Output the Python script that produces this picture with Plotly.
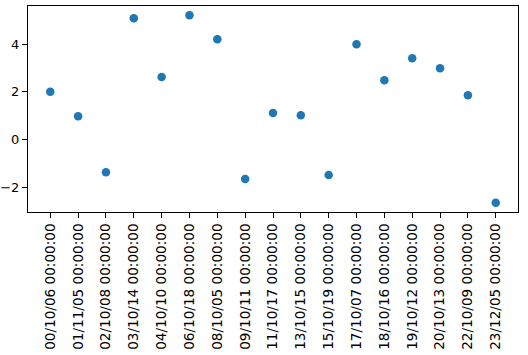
import plotly.graph_objects as go

dates = ["00/10/06 00:00:00", "01/11/05 00:00:00", "02/10/08 00:00:00", "03/10/14 00:00:00",
         "04/10/10 00:00:00", "06/10/18 00:00:00", "08/10/05 00:00:00", "09/10/11 00:00:00",
         "11/10/17 00:00:00", "13/10/15 00:00:00", "15/10/19 00:00:00", "17/10/07 00:00:00",
         "18/10/16 00:00:00", "19/10/12 00:00:00", "20/10/13 00:00:00", "22/10/09 00:00:00",
         "23/12/05 00:00:00"]
values = [2.0, 0.98, -1.37, 5.09, 2.62, 5.21, 4.21, -1.66, 1.11, 1.02, -1.49, 4.0,
          2.49, 3.41, 2.99, 1.86, -2.65]

fig = go.Figure(go.Scatter(
    x=dates, y=values, mode="markers",
    marker=dict(color="#1f77b4", size=8.5, line=dict(width=0)),
))

axis_common = dict(
    showline=True, linecolor="black", linewidth=1, mirror=True,
    ticks="outside", ticklen=5, tickcolor="black", tickwidth=1,
    showgrid=False, zeroline=False, automargin=False,
    tickfont=dict(family="DejaVu Sans", size=13, color="black"),
)

fig.update_layout(
    width=528, height=355,
    margin=dict(l=28, r=10, t=6, b=143),
    plot_bgcolor="white", paper_bgcolor="white",
    showlegend=False,
    xaxis=dict(type="category", range=[-0.8, 16.8], tickangle=-90, **axis_common),
    yaxis=dict(range=[-3.04, 5.6], tickvals=[-2, 0, 2, 4], **axis_common),
)
fig.update_xaxes(tickfont_size=13.6)

fig.write_html("out.html")
